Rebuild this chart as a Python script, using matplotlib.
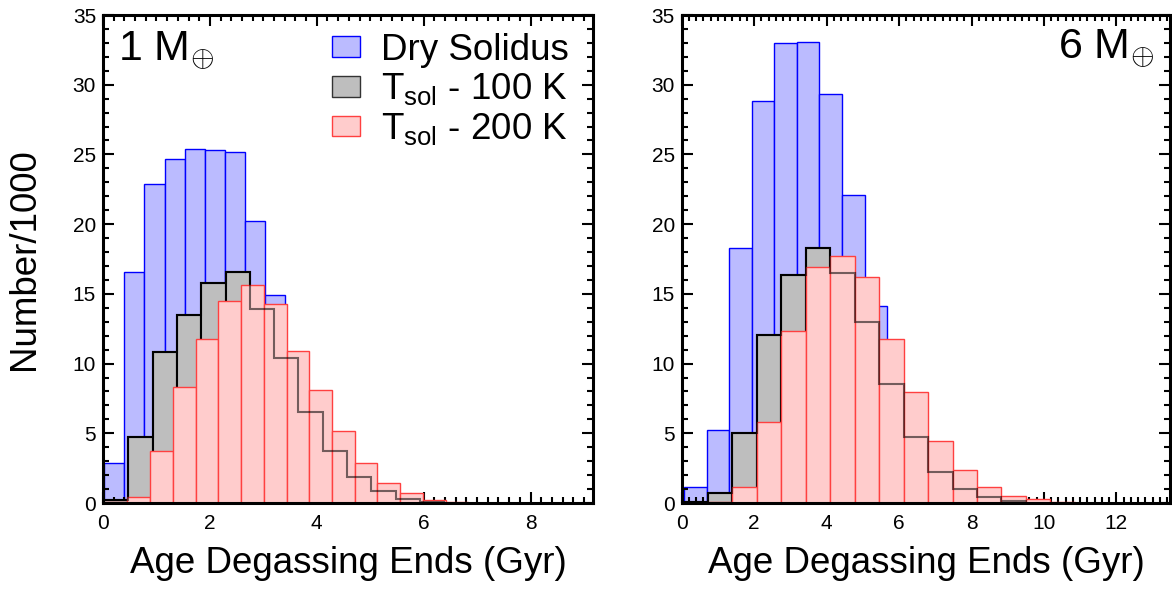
# Histograms of the age at which degassing ends, 1 and 6 Earth masses

import numpy
import matplotlib
matplotlib.use("Agg")
import matplotlib.pyplot as plt
from matplotlib.ticker import MultipleLocator
from matplotlib.patches import Patch

plt.rcParams["font.family"] = ["Liberation Sans", "DejaVu Sans"]
plt.rcParams["mathtext.fontset"] = "custom"
plt.rcParams["mathtext.rm"] = "Liberation Sans"
plt.rcParams["mathtext.it"] = "Liberation Sans:italic"

# ---- 1 Earth mass: (first bin edge, bin width, counts per bin / 1000)
dry1_start, dry1_width = 0.025, 0.3755
dry1 = [2.85, 16.6, 22.9, 24.65, 25.4, 25.3, 25.2, 20.2, 14.9,
        9.5, 5.0, 2.2, 0.8, 0.3, 0.1]
t100_1_start, t100_1_width = 0.02, 0.4545
t100_1 = [0.2, 4.76, 10.8, 13.5, 15.8, 16.55, 13.9, 10.4, 6.55, 3.7,
          1.85, 0.86, 0.27, 0.1]
t200_1_start, t200_1_width = 0.03, 0.4255
t200_1 = [0.05, 0.45, 3.75, 8.3, 11.76, 14.5, 15.64, 14.28, 10.9, 8.1,
          5.19, 2.9, 1.46, 0.7, 0.22, 0.1]

# ---- 6 Earth masses
dry6_start, dry6_width = 0.065, 0.623
dry6 = [1.17, 5.24, 18.27, 28.8, 33.0, 33.1, 29.3, 22.1, 14.1,
        7.0, 3.5, 1.5, 0.6, 0.2, 0.05]
t100_6_start, t100_6_width = 0.05, 0.675
t100_6 = [0.1, 0.7, 5.0, 12.05, 16.36, 18.3, 16.5, 12.96, 8.54, 4.7,
          2.25, 1.0, 0.4, 0.15]
t200_6_start, t200_6_width = 0.05, 0.675
t200_6 = [0.0, 0.1, 1.17, 5.79, 12.34, 16.9, 17.7, 16.2, 11.74, 7.98,
          4.47, 2.37, 1.13, 0.52, 0.29, 0.1]

panels = [
    ("1 M$_{\\oplus}$", 9.17, 2,
     (dry1_start, dry1_width, dry1),
     (t100_1_start, t100_1_width, t100_1),
     (t200_1_start, t200_1_width, t200_1)),
    ("6 M$_{\\oplus}$", 13.48, 2,
     (dry6_start, dry6_width, dry6),
     (t100_6_start, t100_6_width, t100_6),
     (t200_6_start, t200_6_width, t200_6)),
]

BLUE_FILL, BLUE_EDGE = "#bbbbff", "#0000ff"
GRAY_FILL, GRAY_EDGE = "#bebebe", "black"
RED_FILL, RED_EDGE = "#ffcccc", "#ff4040"


def edges(start, width, vals):
    return start + width * numpy.arange(len(vals) + 1)


fig = plt.figure(figsize=(11.72, 5.91), dpi=100)
axes = [fig.add_axes([0.0879, 0.1489, 0.4181, 0.8257]),
        fig.add_axes([0.5817, 0.1489, 0.4166, 0.8257])]

for ax, (title, xmax, xmaj, dry, t100, t200) in zip(axes, panels):
    e = edges(*dry)
    ax.bar(e[:-1], dry[2], width=dry[1], align="edge", color=BLUE_FILL,
           edgecolor=BLUE_EDGE, linewidth=1.0, zorder=1)
    e = edges(*t100)
    ax.bar(e[:-1], t100[2], width=t100[1], align="edge", color=GRAY_FILL,
           edgecolor=GRAY_EDGE, linewidth=1.5, zorder=2)
    e2 = edges(*t200)
    ax.bar(e2[:-1], t200[2], width=t200[1], align="edge", color=RED_FILL,
           edgecolor=RED_EDGE, linewidth=1.0, zorder=3)
    # the 100 K outline shows through the 200 K fill
    ax.stairs(t100[2], e, color="black", linewidth=1.5, alpha=0.55, zorder=4)

    ax.set_xlim(0, xmax)
    ax.set_ylim(0, 35)
    ax.xaxis.set_major_locator(MultipleLocator(xmaj))
    ax.xaxis.set_minor_locator(MultipleLocator(0.2))
    ax.yaxis.set_major_locator(MultipleLocator(5))
    ax.yaxis.set_minor_locator(MultipleLocator(1))
    ax.tick_params(which="both", direction="in", top=True, right=True,
                   labelsize=15, width=1.5)
    ax.tick_params(which="major", length=8)
    ax.tick_params(which="minor", length=4.3)
    ax.tick_params(axis="x", pad=8)
    ax.tick_params(axis="y", pad=5)
    for s in ax.spines.values():
        s.set_linewidth(2.2)
        s.set_zorder(6)
    ax.set_xlabel("Age Degassing Ends (Gyr)", fontsize=26.5, labelpad=9)

axes[0].set_ylabel("Number/1000", fontsize=26.5, labelpad=22)
axes[0].text(0.031, 0.971, panels[0][0], transform=axes[0].transAxes,
             fontsize=31, ha="left", va="top")
axes[1].text(0.967, 0.975, panels[1][0], transform=axes[1].transAxes,
             fontsize=31, ha="right", va="top")

handles = [Patch(facecolor=BLUE_FILL, edgecolor=BLUE_EDGE, label="Dry Solidus"),
           Patch(facecolor=GRAY_FILL, edgecolor="#333333", label="T$_{\\rm sol}$ - 100 K"),
           Patch(facecolor=RED_FILL, edgecolor=RED_EDGE, label="T$_{\\rm sol}$ - 200 K")]
axes[0].legend(handles=handles, loc="upper right", bbox_to_anchor=(0.986, 1.0),
               fontsize=26.5, frameon=False,
               handlelength=0.76, handleheight=0.49, handletextpad=0.55,
               labelspacing=0.1, borderaxespad=0.08)

plt.savefig("out.png")
plt.close()
